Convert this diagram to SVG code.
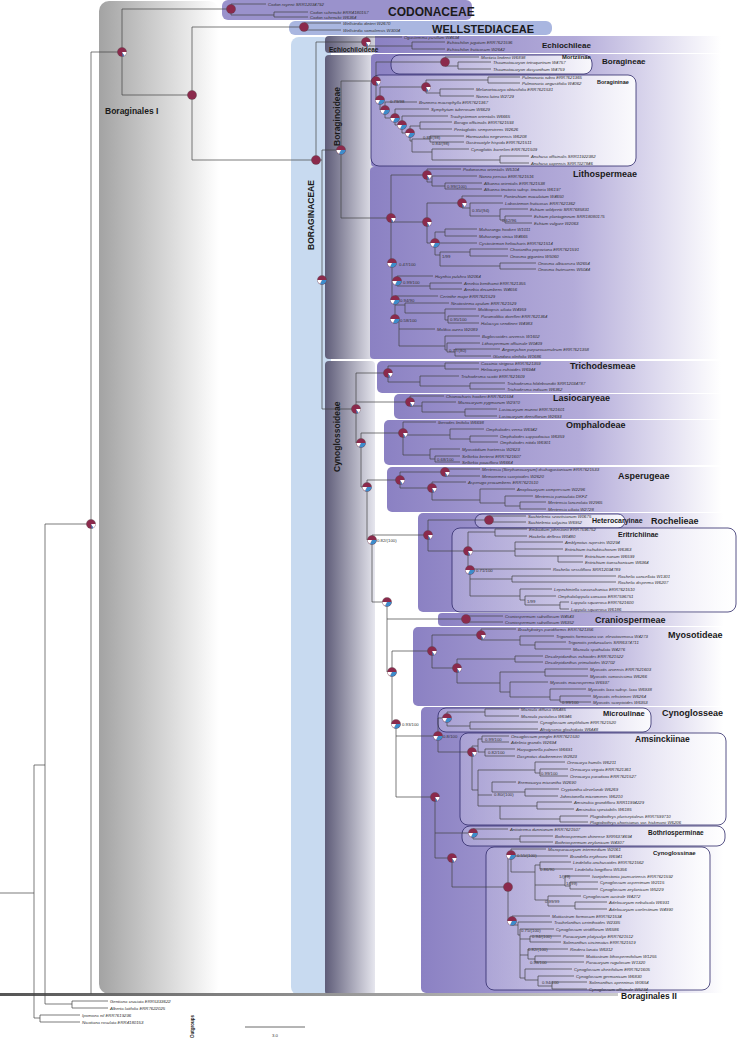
<svg xmlns="http://www.w3.org/2000/svg" xmlns:xlink="http://www.w3.org/1999/xlink" width="739" height="1040" viewBox="0 0 739 1040">
<defs>
<linearGradient id="gPur" x1="0" y1="0" x2="1" y2="0"><stop offset="0" stop-color="#8b81c3"/><stop offset="0.55" stop-color="#b3abd9"/><stop offset="0.95" stop-color="#ffffff"/></linearGradient>
<linearGradient id="gGray" x1="0" y1="0" x2="1" y2="0"><stop offset="0" stop-color="#a3a3a3"/><stop offset="1" stop-color="#ffffff"/></linearGradient>
<linearGradient id="gSub" x1="0" y1="0" x2="1" y2="0"><stop offset="0" stop-color="#5e5c78"/><stop offset="1" stop-color="#e6e6ee"/></linearGradient>
<linearGradient id="gIn" x1="0" y1="0" x2="1" y2="0"><stop offset="0" stop-color="#c9c4e6" stop-opacity="0.4"/><stop offset="1" stop-color="#ffffff" stop-opacity="0.9"/></linearGradient>
<linearGradient id="gBar" x1="0" y1="0" x2="1" y2="0"><stop offset="0" stop-color="#555"/><stop offset="1" stop-color="#ccc"/></linearGradient>
<g id="pA"><circle r="4.6" fill="#8b2a4c" stroke="#444" stroke-width="0.3"/><path d="M0,0 L4.6,0 A4.6,4.6 0 0 1 2.3,4 Z" fill="#fff"/><path d="M0,0 L2.3,4 A4.6,4.6 0 0 1 0.8,4.5 Z" fill="#3d8ccb"/></g>
<g id="pB"><circle r="4.6" fill="#8b2a4c" stroke="#444" stroke-width="0.3"/><path d="M0,0 L4.6,0 A4.6,4.6 0 0 1 -2,4.1 Z" fill="#3d8ccb"/><path d="M0,0 L-2,4.1 A4.6,4.6 0 0 1 -4.6,0 Z" fill="#fff"/></g>
<g id="pC"><circle r="4.6" fill="#8b2a4c" stroke="#444" stroke-width="0.3"/></g>
</defs>
<style>
.t{font-family:"Liberation Sans",Arial,sans-serif;font-style:italic;font-size:4.3px;fill:#333}
.s{font-family:"Liberation Sans",Arial,sans-serif;font-size:4.3px;fill:#333}
.c{font-family:"Liberation Sans",Arial,sans-serif;font-weight:bold;fill:#1a1a1a}
.ln{fill:none;stroke:#444;stroke-width:0.7}
.ob{stroke:#2e2a6a;stroke-width:0.8;fill:url(#gIn)}
</style>
<g id="bg">
<rect x="99" y="1" width="120" height="993" rx="10" fill="url(#gGray)"/>
<rect x="291" y="37" width="40" height="958" rx="8" fill="#c8daf0"/>
<rect x="222" y="0" width="250" height="20" rx="6" fill="#9a92cc"/>
<rect x="289" y="21" width="263" height="14" rx="6" fill="#a9b6e0"/>
<rect x="325" y="36" width="60" height="17" rx="4" fill="url(#gSub)"/>
<rect x="375" y="36" width="364" height="17" fill="url(#gPur)"/>
<rect x="325" y="55" width="50" height="304" rx="4" fill="url(#gSub)"/>
<rect x="325" y="361" width="50" height="634" rx="4" fill="url(#gSub)"/>
<rect x="371" y="54" width="368" height="113" rx="4" fill="url(#gPur)"/>
<rect x="370" y="167" width="369" height="192" rx="4" fill="url(#gPur)"/>
<rect x="377" y="361" width="362" height="32" rx="5" fill="url(#gPur)"/>
<rect x="394" y="394" width="345" height="25" rx="5" fill="url(#gPur)"/>
<rect x="384" y="420" width="355" height="45" rx="5" fill="url(#gPur)"/>
<rect x="387" y="467" width="352" height="45" rx="5" fill="url(#gPur)"/>
<rect x="418" y="513" width="321" height="99" rx="5" fill="url(#gPur)"/>
<rect x="438" y="613" width="301" height="13" rx="4" fill="url(#gPur)"/>
<rect x="413" y="627" width="326" height="79" rx="5" fill="url(#gPur)"/>
<rect x="421" y="707" width="318" height="286" rx="5" fill="url(#gPur)"/>
<rect x="391" y="55" width="201" height="19" rx="8" class="ob"/>
<rect x="371" y="75" width="265" height="91" rx="8" class="ob"/>
<rect x="475" y="514" width="150" height="14" rx="7" class="ob"/>
<rect x="452" y="528" width="284" height="84" rx="8" class="ob"/>
<rect x="438" y="708" width="213" height="24" rx="8" class="ob"/>
<rect x="460" y="733" width="266" height="92" rx="8" class="ob"/>
<rect x="462" y="826" width="263" height="20" rx="8" class="ob"/>
<rect x="486" y="847" width="224" height="143" rx="8" class="ob"/>
<rect x="0" y="993" width="618" height="3" fill="url(#gBar)"/>
</g>
<g id="connectors">
<path class="ln" d="M0 893H34M34 765V1018M34 765H45M45 524V1004M45 524H91M45 1004H72M72 1001V1008M72 1001H108M72 1008H108M34 1018H40M40 1015V1022M40 1015H80M40 1022H80
M91 52V994M91 52H122M122 9V95M122 9H231M122 95H192M192 27V160M192 27H304M192 160H316
M231 4V15M231 4H266M231 15H274M274 12V17M274 12H308M274 17H308M304 23V30M304 23H341M304 30H341
M316 42V160M316 42H366M316 160H322M366 37V46M366 37H402M366 46H412M412 42V49M412 42H445M412 49H445
M322 150V409M322 150H341M341 81V218M341 81H376M341 218H391
M376 62V100M376 62H445M445 57V66M445 57H479M445 66H458M458 62V69M458 62H491M458 69H491M376 100H380M380 87V110M380 87H426M426 80V93M426 80H488M488 77V83M488 77H520M488 83H520M426 93H440M440 89V96M440 89H474M440 96H474
M380 110H385M385 102V118M385 102H417M385 118H395M395 109V125M395 109H429M395 125H402M402 116V133M402 116H448M402 133H410M410 126V141M410 126H420M420 122V129M420 122H452M420 129H452M410 141H412M412 139V152M412 139H430M430 136V142M430 136H464M430 142H464M412 152H432M432 149V160M432 149H469M432 160H500M500 156V163M500 156H529M500 163H529
M391 175V263M391 175H427M427 169V182M427 169H461M427 182H432M432 176V186M432 176H477M432 186H445M445 183V189M445 183H482M445 189H482
M391 222H427M427 203V243M427 203H462M462 196V208M462 196H502M462 208H470M470 203V216M470 203H503M470 216H500M500 209V220M500 209H528M500 220H505M505 216V223M505 216H532M505 223H532
M427 243H435M435 232V255M435 232H445M445 229V236M445 229H477M445 236H477M435 243H477M435 255H440M440 252V266M440 252H470M470 249V256M470 249H508M470 256H508M440 266H500M500 263V269M500 263H536M500 269H536
M391 263H392M392 263V300M392 281H397M397 276V286M397 276H433M397 286H430M430 283V289M430 283H462M430 289H462M392 300H395M395 296V319M395 296H438M395 305H405M405 303V313M405 303H449M405 313H445M445 309V320M445 309H476M445 320H448M448 316V323M448 316H479M448 323H479
M395 319H399M399 319V346M399 329H435M399 346H445M445 336V350M445 336H480M445 350H447M447 343V352M447 343H480M447 352H455M455 349V356M455 349H500M455 356H491
M322 409H356M356 373V443M356 373H388M388 366V382M388 366H445M445 363V369M445 363H479M445 369H479M388 382H420M420 376V386M420 376H459M420 386H470M470 383V389M470 383H505M470 389H505
M356 402H410M410 396V406M410 396H444M410 406H422M422 402V412M422 402H456M422 412H465M465 409V416M465 409H497M465 416H497
M356 443H361M361 433V487M361 433H403M403 422V455M403 422H436M403 435H450M450 429V439M450 429H484M450 439H470M470 436V442M470 436H498M470 442H498M403 455H430M430 449V459M430 449H460M430 459H435M435 456V462M435 456H460M435 462H460
M361 487H367M367 480V540M367 480H400M400 472V488M400 472H445M445 469V476M445 469H480M445 476H480M400 488H432M432 482V500M432 482H466M432 500H480M480 489V503M480 489H515M480 503H505M505 496V506M505 496H533M505 506H520M520 502V509M520 502H546M520 509H546
M367 540H372M372 535V602M372 535H428M428 520V551M428 520H489M489 516V522M489 516H526M489 522H526M428 551H468M468 532V570M468 532H495M495 529V536M495 529H527M495 536H527M468 551H515M515 542V556M515 542H563M515 549H563M515 556H558M558 556V562M558 556H583M558 562H583
M468 570H470M470 569V596M470 569H551M470 579H512M512 576V582M512 576H616M512 582H616M470 596H520M520 589V600M520 589H552M520 600H525M525 596V605M525 596H556M525 605H560M560 602V609M560 602H569M560 609H569
M372 602H387M387 602V672M387 619H466M466 616V622M466 616H503M466 622H503M387 672H392M392 651V724M392 651H432M432 635V668M432 635H481M481 629V640M481 629H516M481 640H520M520 636V645M520 636H554M520 645H535M535 642V649M535 642H566M535 649H571
M432 668H457M457 659V683M457 659H515M515 656V662M515 656H543M515 662H543M457 683H500M500 672V692M500 672H545M545 669V676M545 669H588M545 676H588M500 692H510M510 682V697M510 682H548M510 697H550M550 689V700M550 689H586M550 700H560M560 696V702M560 696H591M560 702H591
M392 724H396M396 724V797M396 736H438M438 718V752M438 718H447M447 712V726M447 712H485M485 709V716M485 709H519M485 716H519M447 726H470M470 722V729M470 722H538M470 729H538
M438 752H472M472 746V790M472 746H478M478 739V752M478 739H482M482 736V742M482 736H509M482 742H509M478 752H485M485 749V756M485 749H515M485 756H515M472 790H478M478 770V806M478 770H535M535 762V773M535 762H565M535 773H540M540 769V776M540 769H568M540 776H568M478 795H492M492 782V792M492 782H516M492 792H525M525 789V796M525 789H559M525 796H558M478 806H500M500 806V819M500 806H537M537 802V809M537 802H572M537 809H574M500 819H560M560 816V822M560 816H588M560 822H588
M396 797H435M435 797V858M435 833H473M473 829V839M473 829H508M473 839H520M520 836V842M520 836H553M520 842H553M435 858H452M452 858V887M452 887H508M508 855V921M508 855H511M511 849V872M511 849H546M511 856H568M511 872H535M535 865V900M535 865H540M540 862V869M540 862H571M540 869H573M535 885H565M565 876V886M565 876H590M565 886H570M570 882V889M570 882H598M570 889H598M535 900H548M548 896V906M548 896H581M548 906H575M575 902V909M575 902H607M575 909H607
M508 921H512M512 916V925M512 916H550M512 925H518M518 922V935M518 922H552M518 935H520M520 929V978M520 929H554M520 939H530M530 936V942M530 936H561M530 942H561M520 955H528M528 949V959M528 949H568M528 959H535M535 956V962M535 956H584M535 962H584M520 978H525M525 969V980M525 969H572M525 980H538M538 976V986M538 976H574M538 986H552M552 982V989M552 982H587M552 989H587"/>
</g>
<g id="pies">
<use href="#pA" x="91" y="524"/><use href="#pA" x="122" y="52"/><use href="#pC" x="192" y="95"/><use href="#pC" x="231" y="9"/><use href="#pC" x="304" y="27"/><use href="#pC" x="316" y="160"/><use href="#pA" x="366" y="42"/><use href="#pB" x="322" y="280"/><use href="#pB" x="341" y="150"/>
<use href="#pA" x="376" y="81"/><use href="#pC" x="445" y="62"/><use href="#pA" x="426" y="87"/><use href="#pB" x="380" y="100"/><use href="#pB" x="385" y="110"/><use href="#pB" x="395" y="118"/><use href="#pB" x="402" y="125"/><use href="#pB" x="410" y="133"/>
<use href="#pA" x="391" y="218"/><use href="#pA" x="427" y="175"/><use href="#pA" x="462" y="203"/><use href="#pA" x="427" y="222"/><use href="#pB" x="435" y="243"/><use href="#pB" x="392" y="263"/><use href="#pB" x="397" y="281"/><use href="#pB" x="395" y="300"/><use href="#pB" x="395" y="319"/>
<use href="#pA" x="388" y="373"/><use href="#pA" x="410" y="402"/><use href="#pA" x="356" y="409"/><use href="#pB" x="361" y="443"/><use href="#pA" x="403" y="433"/><use href="#pB" x="367" y="487"/><use href="#pA" x="400" y="480"/><use href="#pA" x="445" y="472"/><use href="#pA" x="432" y="488"/>
<use href="#pB" x="372" y="540"/><use href="#pA" x="428" y="535"/><use href="#pC" x="489" y="520"/><use href="#pA" x="468" y="551"/><use href="#pB" x="470" y="570"/><use href="#pB" x="387" y="602"/><use href="#pC" x="466" y="619"/>
<use href="#pB" x="392" y="672"/><use href="#pA" x="432" y="651"/><use href="#pA" x="481" y="635"/><use href="#pA" x="457" y="668"/><use href="#pB" x="396" y="724"/><use href="#pB" x="447" y="718"/><use href="#pB" x="438" y="736"/><use href="#pA" x="472" y="752"/>
<use href="#pA" x="435" y="797"/><use href="#pB" x="473" y="833"/><use href="#pA" x="452" y="858"/><use href="#pB" x="511" y="855"/><use href="#pC" x="508" y="887"/><use href="#pB" x="512" y="921"/>
</g>
<g id="support" class="s">
<text x="390" y="103">0.79/98</text><text x="423" y="139">0.89/(98)</text><text x="432" y="145">0.84/(98)</text><text x="447" y="188">0.99/(100)</text><text x="472" y="212">0.35/(94)</text><text x="502" y="222">0.62/96</text><text x="442" y="258">1/99</text><text x="399" y="266">0.47/100</text><text x="403" y="284">0.99/100</text><text x="400" y="302">0.94/90</text><text x="400" y="322">0.58/100</text><text x="450" y="321">0.95/100</text><text x="449" y="352">0.77/(80)</text>
<text x="437" y="461">0.68/100</text><text x="377" y="542">0.82/(100)</text><text x="476" y="572">0.71/100</text><text x="527" y="603">1/99</text><text x="562" y="704">0.99/100</text><text x="402" y="726">0.93/100</text><text x="443" y="738">0.8/100</text><text x="485" y="741">0.99/100</text><text x="488" y="754">0.82/100</text><text x="541" y="775">0.99/100</text><text x="494" y="796">0.80/(100)</text>
<text x="517" y="857">0.55/(100)</text><text x="540" y="871">0.86/90</text><text x="559" y="878">1/(99)</text><text x="566" y="885">1/(99)</text><text x="545" y="903">0.99/99</text><text x="521" y="932">0.75/(100)</text><text x="532" y="938">0.94/(100)</text><text x="528" y="951">0.82/(100)</text><text x="530" y="964">0.98/100</text><text x="542" y="984">0.94/100</text>
</g>
<g id="tips" class="t">
<text x="268" y="5.5">Codon royenii SRR12034792</text><text x="310" y="13.5">Codon schenckii ERR4180157</text><text x="310" y="18.5">Codon schenckii W6364</text>
<text x="343" y="24.5">Wellstedia dinteri W2670</text><text x="343" y="31.5">Wellstedia somalensis W3004</text>
<text x="404" y="38.5">Ogastemma pusillum W4634</text><text x="447" y="43.5">Echiochilon jugatum ERR7621596</text><text x="447" y="50.5">Echiochilon fruticosum W2642</text>
<text x="481" y="58.5">Moritzia lindenii W6898</text><text x="493" y="63.5">Thaumatocaryon tetraquetrum W4757</text><text x="493" y="70.5">Thaumatocaryon dasyanthum W4759</text>
<text x="522" y="78.5">Pulmonaria rubra ERR7621365</text><text x="522" y="84.5">Pulmonaria angustifolia W4062</text><text x="476" y="90.5">Melanortocarya obtusifolia ERR7621531</text><text x="476" y="97.5">Nonea lutea W2729</text>
<text x="419" y="103.5">Brunnera macrophylla ERR7621367</text><text x="431" y="110.5">Symphytum tuberosum W6629</text><text x="450" y="117.5">Trachystemon orientalis W6665</text><text x="454" y="123.5">Borago officinalis ERR7621593</text><text x="454" y="130.5">Pentaglottis sempervirens W2626</text><text x="466" y="137.5">Hormuzakia negevensis W6208</text><text x="466" y="143.5">Gastrocotyle hispida ERR7621511</text><text x="471" y="150.5">Cynoglottis barrelieri ERR7621509</text><text x="531" y="157.5">Anchusa officinalis SRR11922382</text><text x="531" y="164.5">Anchusa capensis SRR7027846</text>
<text x="463" y="170.5">Podonosma orientalis W5104</text><text x="479" y="177.5">Nonea persica ERR7621516</text><text x="484" y="184.5">Alkanna orientalis ERR7621538</text><text x="484" y="190.5">Alkanna tinctoria subsp. tinctoria W6197</text><text x="504" y="197.5">Pontechium maculatum W4650</text><text x="505" y="204.5">Lobostemon fruticosus ERR7621362</text><text x="530" y="210.5">Echium wildpretii SRR7685831</text><text x="534" y="217.5">Echium plantagineum SRR18080175</text><text x="534" y="224.5">Echium vulgare W2063</text>
<text x="479" y="230.5">Maharanga hookeri W1011</text><text x="479" y="237.5">Maharanga sinica W4665</text><text x="479" y="244.5">Cystostemon heliocharis ERR7621514</text><text x="510" y="250.5">Choriantha popoviana ERR7621591</text><text x="510" y="257.5">Onosma gigantea W5060</text><text x="538" y="264.5">Onosma albicorsea W2654</text><text x="538" y="270.5">Onosma frutescens W5044</text>
<text x="435" y="277.5">Huynhia pulchra W2064</text><text x="464" y="284.5">Arnebia benthamii ERR7621355</text><text x="464" y="290.5">Arnebia decumbens W4656</text><text x="440" y="297.5">Cerinthe major ERR7621529</text><text x="451" y="304.5">Neatostema apulum ERR7621529</text><text x="478" y="310.5">Moltkiopsis ciliata W4959</text><text x="481" y="317.5">Paramoltkia doerfleri ERR7621364</text><text x="481" y="324.5">Halacsya sendtneri W4983</text>
<text x="437" y="330.5">Moltkia aurea W2089</text><text x="482" y="337.5">Buglossoides arvensis W1602</text><text x="482" y="344.5">Lithospermum officinale W0409</text><text x="502" y="350.5">Aegonychon purpurocaeruleum ERR7621358</text><text x="493" y="357.5">Glandora oleifolia W1686</text>
<text x="481" y="364.5">Caccinia strigosa ERR7621359</text><text x="481" y="370.5">Heliocarya echioides W6944</text><text x="461" y="377.5">Trichodesma scottii ERR7621609</text><text x="507" y="384.5">Trichodesma hildebrandtii SRR12034787</text><text x="507" y="390.5">Trichodesma indicum W6362</text>
<text x="446" y="397.5">Chionocharis hookeri ERR7621594</text><text x="458" y="403.5">Microcaryum pygmaeum W2970</text><text x="499" y="410.5">Lasiocaryum munroi ERR7621601</text><text x="499" y="417.5">Lasiocaryum densiflorum W2693</text>
<text x="438" y="423.5">Iberodes linifolia W6698</text><text x="486" y="430.5">Omphalodes verna W6942</text><text x="500" y="437.5">Omphalodes cappadocica W6359</text><text x="500" y="443.5">Omphalodes nitida W6901</text><text x="462" y="450.5">Myosotidium hortensia W2623</text><text x="462" y="457.5">Selkirkia berteroi ERR7621607</text><text x="462" y="463.5">Selkirkia pauciflora W6664</text>
<text x="482" y="470.5">Mertensia (Stephanocaryum) dschagastanicum ERR7621533</text><text x="482" y="477.5">Memoremea scorpioides W2620</text><text x="468" y="483.5">Asperugo procumbens ERR7621510</text><text x="517" y="490.5">Anoplocaryum compressum W2296</text><text x="535" y="497.5">Mertensia paniculata DKFZ</text><text x="548" y="503.5">Mertensia lanceolata W2965</text><text x="548" y="510.5">Mertensia ciliata W2728</text>
<text x="528" y="517.5">Suchtelenia szovitsianum W0675</text><text x="528" y="523.5">Suchtelenia calycina W6952</text><text x="529" y="530.5">Embadium johnstonii ERR7596752</text><text x="529" y="537.5">Hackelia deflexa W0480</text><text x="565" y="543.5">Amblynotus rupestris W2294</text><text x="565" y="550.5">Eritrichium tschuktschorum W6363</text><text x="585" y="557.5">Eritrichium nanum W6599</text><text x="585" y="563.5">Eritrichium tianschanicum W6364</text>
<text x="553" y="570.5">Rochelia sessiliflora SRR12034789</text><text x="618" y="577.5">Rochelia cancellata W1301</text><text x="618" y="583.5">Rochelia disperma W6207</text><text x="554" y="590.5">Lepechiniella saravschanica ERR7621510</text><text x="558" y="597.5">Omphalolappula concava ERR7596751</text><text x="571" y="603.5">Lappula squarrosa ERR7621600</text><text x="571" y="610.5">Lappula squarrosa W6186</text>
<text x="505" y="617.5">Craniospermum subvillosum W4543</text><text x="505" y="623.5">Craniospermum subvillosum W6352</text>
<text x="518" y="630.5">Brachybotrys paridiformis ERR7621356</text><text x="556" y="637.5">Trigonotis formosana var. elevatovenosa W4273</text><text x="568" y="643.5">Trigonotis peduncularis SRR6374711</text><text x="573" y="650.5">Microula spathulata W4276</text><text x="545" y="657.5">Decalepidanthus echioides ERR7621522</text><text x="545" y="663.5">Decalepidanthus primuloides W2702</text><text x="590" y="670.5">Myosotis arvensis ERR7621603</text><text x="590" y="677.5">Myosotis ramosissima W6266</text><text x="550" y="683.5">Myosotis macrosperma W6937</text><text x="588" y="690.5">Myosotis laxa subsp. laxa W6938</text><text x="593" y="697.5">Myosotis rehsteineri W6264</text><text x="593" y="703.5">Myosotis scorpioides W6353</text>
<text x="521" y="710.5">Microula diffusa W6485</text><text x="521" y="717.5">Microula pustulosa W6946</text><text x="540" y="723.5">Cynoglossum amplifolium ERR7621520</text><text x="540" y="730.5">Afrotysonia glochidiata W6448</text>
<text x="511" y="737.5">Oncaglossum pringlei ERR7621530</text><text x="511" y="743.5">Adelinia grandis W2694</text><text x="517" y="750.5">Harpagonella palmeri W6691</text><text x="517" y="757.5">Dasynotus daubenmirei W2823</text><text x="567" y="763.5">Oreocarya humilis W6211</text><text x="570" y="770.5">Oreocarya virgata ERR7621361</text><text x="570" y="777.5">Oreocarya paradoxa ERR7621527</text><text x="518" y="783.5">Eremocarya micrantha W2690</text><text x="561" y="790.5">Cryptantha clevelandii W6269</text><text x="560" y="797.5">Johnstonella micromeres W6210</text><text x="574" y="803.5">Amsinckia grandiflora SRR11994229</text><text x="576" y="810.5">Amsinckia spectabilis W6185</text><text x="590" y="817.5">Plagiobothrys pluriseptaleus ERR7599710</text><text x="590" y="823.5">Plagiobothrys chorisianus var. hickmanii W6206</text>
<text x="510" y="830.5">Antiotrema dunnianum ERR7621507</text><text x="555" y="837.5">Bothriospermum chinense SRR6374694</text><text x="555" y="843.5">Bothriospermum zeylanicum W4307</text>
<text x="548" y="850.5">Microparacaryum intermedium W2061</text><text x="570" y="857.5">Brandella erythraea W6941</text><text x="573" y="863.5">Lindelofia anchusoides ERR7621562</text><text x="575" y="870.5">Lindelofia longiflora W5356</text><text x="592" y="877.5">Ivanjohnstonia jaunsariensis ERR7621592</text><text x="600" y="883.5">Cynoglossum asperrimum W2115</text><text x="600" y="890.5">Cynoglossum zeylanicum W5229</text><text x="583" y="897.5">Cynoglossum australe W4272</text><text x="609" y="903.5">Adelocaryum nebulicola W6931</text><text x="609" y="910.5">Adelocaryum coelestinum W4990</text>
<text x="552" y="917.5">Mattiastrum formosum ERR7621534</text><text x="554" y="923.5">Trachelanthus cerinthoides W2335</text><text x="556" y="930.5">Cynoglossum viridiflorum W6586</text><text x="563" y="937.5">Paracaryum platycalyx ERR7621512</text><text x="563" y="943.5">Solenanthus circinnatus ERR7621519</text><text x="570" y="950.5">Rindera lanata W6312</text><text x="586" y="957.5">Mattiastrum lithospermifolium W1255</text><text x="586" y="963.5">Paracaryum rugulosum W1320</text><text x="574" y="970.5">Cynoglossum cheirifolium ERR7621605</text><text x="576" y="977.5">Cynoglossum germanicum W6830</text><text x="589" y="983.5">Solenanthus apenninus W0654</text><text x="589" y="990.5">Cynoglossum officinale W5234</text>
<text x="110" y="1002.5">Gentiana cruciata ERR5333622</text><text x="110" y="1009.5">Alberta latifolia ERR7622025</text><text x="82" y="1016.5">Ipomoea nil ERR7619236</text><text x="82" y="1023.5">Nicotiana rosulata ERR4180153</text>
</g>
<g id="labels">
<text class="c" x="388" y="16" font-size="12">CODONACEAE</text>
<text class="c" x="432" y="33" font-size="11">WELLSTEDIACEAE</text>
<text class="c" x="329" y="52" font-size="6.5">Echiochiloideae</text>
<text class="c" x="542" y="48" font-size="8">Echiochileae</text>
<text class="c" x="602" y="64" font-size="8">Boragineae</text>
<text class="c" x="562" y="58.5" font-size="5.8">Mortziinae</text>
<text class="c" x="597" y="84" font-size="5.5">Boragininae</text>
<text class="c" x="573" y="177" font-size="9">Lithospermeae</text>
<text class="c" x="570" y="369" font-size="9">Trichodesmeae</text>
<text class="c" x="553" y="401" font-size="9">Lasiocaryeae</text>
<text class="c" x="566" y="428" font-size="9">Omphalodeae</text>
<text class="c" x="618" y="479" font-size="9">Asperugeae</text>
<text class="c" x="592" y="523" font-size="7">Heterocaryinae</text>
<text class="c" x="651" y="524" font-size="9">Rochelieae</text>
<text class="c" x="618" y="537" font-size="7">Eritrichiinae</text>
<text class="c" x="595" y="623" font-size="9">Craniospermeae</text>
<text class="c" x="668" y="638" font-size="9">Myosotideae</text>
<text class="c" x="603" y="716" font-size="7.5">Microulinae</text>
<text class="c" x="662" y="716" font-size="9">Cynoglosseae</text>
<text class="c" x="635" y="742" font-size="8.5">Amsinckiinae</text>
<text class="c" x="648" y="835" font-size="6.5">Bothriosperminae</text>
<text class="c" x="653" y="855" font-size="6">Cynoglossinae</text>
<text class="c" x="621" y="999" font-size="8.5">Boraginales II</text>
<text class="c" x="105" y="114" font-size="8.5">Boraginales I</text>
<text class="c" font-size="8.5" transform="translate(314,250) rotate(-90)">BORAGINACEAE</text>
<text class="c" font-size="8.5" transform="translate(340,146) rotate(-90)">Boraginoideae</text>
<text class="c" font-size="8.5" transform="translate(340,472) rotate(-90)">Cynoglossoideae</text>
<text class="c" font-size="4.5" transform="translate(194,1038) rotate(-90)">Outgroups</text>
<path d="M245 1027H305" stroke="#444" stroke-width="0.8"/>
<text class="s" x="275" y="1037" font-size="6" text-anchor="middle">3.0</text>
</g>
</svg>
